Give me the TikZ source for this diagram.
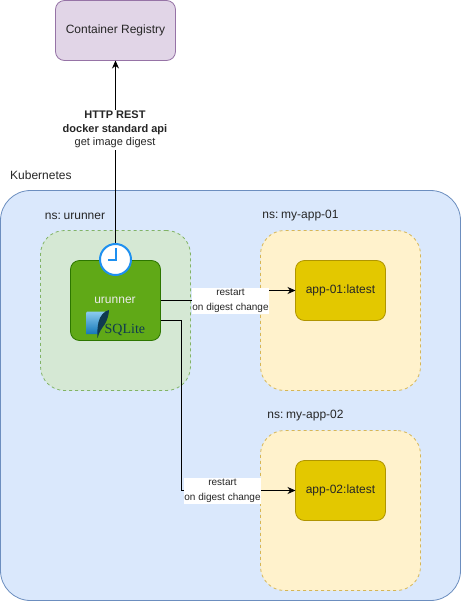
\documentclass[tikz,border=0pt]{standalone}
\usepackage{fontspec}
\setmainfont{Liberation Sans}
\newfontfamily\logofont{Liberation Serif}
\usetikzlibrary{arrows.meta,calc}
\tikzset{
  x=1pt,y=-1pt,
  box/.style={draw,rounded corners=#1,line width=0.8pt,anchor=north west,inner sep=0pt,outer sep=0pt,align=center,font=\fontsize{12}{14}\selectfont,text=black!85},
  nsbox/.style={box=24pt,dashed,dash pattern=on 3pt off 3pt},
  appbox/.style={box=9pt,fill=appfill,draw=appdraw,minimum width=90pt,minimum height=60pt},
  caption/.style={font=\fontsize{12}{14}\selectfont,text=black!85,inner sep=0pt},
  small/.style={fill=white,inner sep=0pt,outer sep=0pt,align=center,font=\fontsize{10}{14}\selectfont,text=black!85},
  conn/.style={draw=black,line width=0.8pt,-{Stealth[length=8pt,width=7pt]}},
}
\definecolor{k8sfill}{HTML}{DAE8FC}\definecolor{k8sdraw}{HTML}{6C8EBF}
\definecolor{nsgfill}{HTML}{D5E8D4}\definecolor{nsgdraw}{HTML}{82B366}
\definecolor{nsyfill}{HTML}{FFF2CC}\definecolor{nsydraw}{HTML}{D6B656}
\definecolor{regfill}{HTML}{E1D5E7}\definecolor{regdraw}{HTML}{9673A6}
\definecolor{appfill}{HTML}{E3C800}\definecolor{appdraw}{HTML}{B09500}
\definecolor{urfill}{HTML}{60A917}\definecolor{urdraw}{HTML}{2D7600}
\definecolor{clockblue}{HTML}{1E90F0}
\definecolor{sqltop}{HTML}{8CCBF0}
\definecolor{sqlbot}{HTML}{1478B8}
\definecolor{sqldark}{HTML}{0F3A50}
\begin{document}
\begin{tikzpicture}
\useasboundingbox (0,0) rectangle (462,602);
% containers
\node[box=30pt,fill=k8sfill,draw=k8sdraw,minimum width=460pt,minimum height=410pt] (k8s) at (0.5,190.5) {};
\node[caption,anchor=west] (k8slabel) at (10,175) {Kubernetes};
\node[nsbox,fill=nsgfill,draw=nsgdraw,minimum width=150pt,minimum height=160pt] (nsur) at (40.5,230.5) {};
\node[nsbox,fill=nsyfill,draw=nsydraw,minimum width=160pt,minimum height=160pt] (ns1) at (260.5,230.5) {};
\node[nsbox,fill=nsyfill,draw=nsydraw,minimum width=160pt,minimum height=160pt] (ns2) at (260.5,430.5) {};
\node[caption] (nsurl) at (75,216) {ns:\kern-0.6pt\ urunner};
\node[caption] (ns1l) at (300.5,216) {ns:\kern-0.6pt\ my-app-01};
\node[caption] (ns2l) at (305.5,416) {ns:\kern-0.6pt\ my-app-02};
% nodes
\node[box=9pt,fill=regfill,draw=regdraw,minimum width=120pt,minimum height=60pt] (reg) at (55.5,0.5) {Container Registry};
\node[box=9pt,fill=urfill,draw=urdraw,minimum width=90pt,minimum height=80pt] (ur) at (70.5,260.5) {};
\node[font=\fontsize{12}{14}\selectfont,text=white!92!black,inner sep=0pt] (urlabel) at (115,300) {urunner};
\node[appbox] (app1) at (295.5,260.5) {app-01:latest};
\node[appbox] (app2) at (295.5,460.5) {app-02:latest};
% free ends of the connectors
\coordinate (o1) at (160.5,300.5);
\coordinate (o2) at (160.5,320.5);
\coordinate (e1) at (295.5,290.5);
\coordinate (e2) at (295.5,490.5);
\coordinate (top) at (115.5,245);
% connectors
\draw[conn] (top) -- (reg.south -| top);
\draw[conn] (o1) -- (228.5,300.5) -- (228.5,290.5) -- (e1);
\draw[conn] (o2) -- (181.5,320.5) -- (181.5,490.5) -- (e2);
% connector labels
\node[small,minimum width=106pt,minimum height=40pt,font=\fontsize{11}{13.5}\selectfont] (l0) at (115,129.5) {\textbf{HTTP REST}\\\textbf{docker standard api}\\get image digest};
\node[small,minimum width=77pt,minimum height=26pt] (l1) at (230.5,300.5) {restart\\[1pt]on digest change};
\node[small,minimum width=77pt,minimum height=26pt] (l2) at (222.5,490.5) {restart\\[1pt]on digest change};
% clock
\node[circle,draw=clockblue,fill=white,line width=2pt,minimum size=31pt,inner sep=0pt,outer sep=0pt] (clock) at (115.5,259.5) {};
\draw[draw=clockblue,line width=2pt] (115.5,248) -- (115.5,259.5) -- (108,259.5);
% SQLite logo
\shade[top color=sqltop,bottom color=sqlbot] (88,311.5) -- (107,311.5) .. controls (102,317) and (99,325) .. (98,334) -- (86,334) -- (86,313.5) .. controls (86,312) and (87,311.5) .. (88,311.5) -- cycle;
\fill[sqldark] (109,310) .. controls (104,311) and (100,316) .. (98.5,322) .. controls (97.5,327) and (97,333) .. (97.5,338) .. controls (99,332) and (102,328) .. (105,324) .. controls (107,320) and (109,315) .. (109,310) -- cycle;
\node[text=sqldark,inner sep=0pt,anchor=west] (sql) at (104.5,330) {\logofont\fontsize{14}{14}\selectfont SQLite};
\end{tikzpicture}
\end{document}
